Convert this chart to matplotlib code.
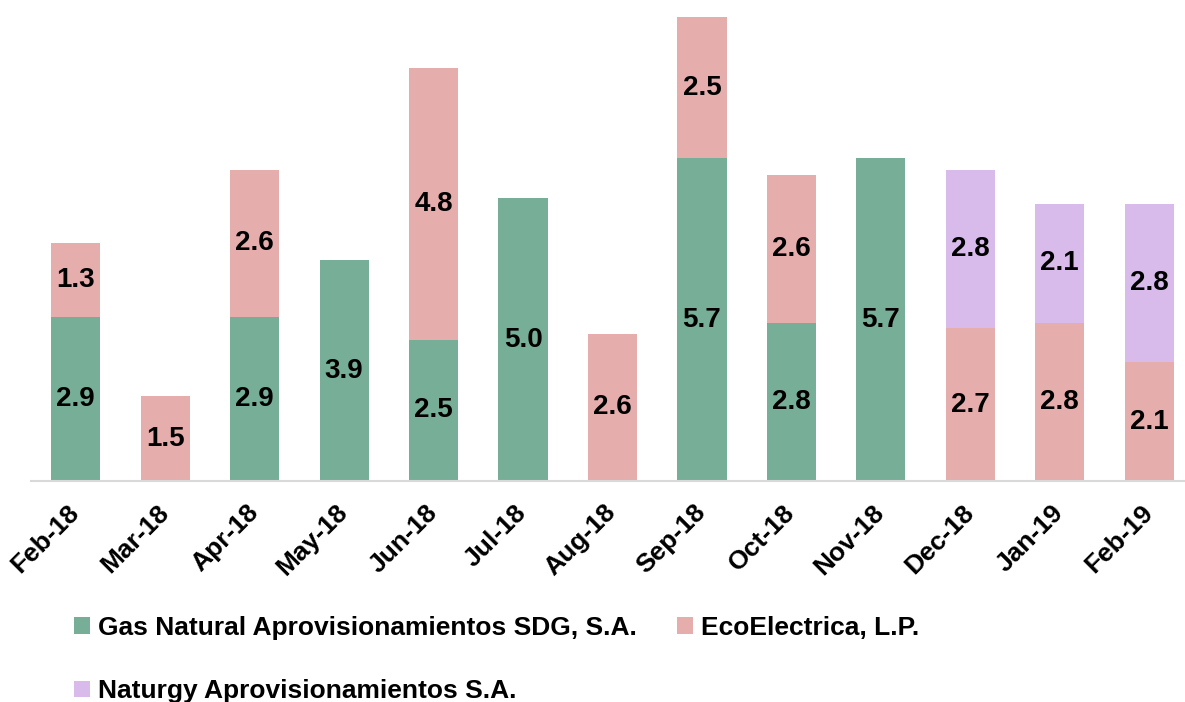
import numpy as np
import matplotlib.pyplot as plt

plt.rcParams['font.family'] = ['Liberation Sans', 'DejaVu Sans']
plt.rcParams['font.weight'] = 'bold'

months = ['Feb-18', 'Mar-18', 'Apr-18', 'May-18', 'Jun-18', 'Jul-18', 'Aug-18',
          'Sep-18', 'Oct-18', 'Nov-18', 'Dec-18', 'Jan-19', 'Feb-19']
gas = [2.9, 0, 2.9, 3.9, 2.5, 5.0, 0, 5.7, 2.8, 5.7, 0, 0, 0]
eco = [1.3, 1.5, 2.6, 0, 4.8, 0, 2.6, 2.5, 2.6, 0, 2.7, 2.8, 2.1]
nat = [0, 0, 0, 0, 0, 0, 0, 0, 0, 0, 2.8, 2.1, 2.8]
names = ['Gas Natural Aprovisionamientos SDG, S.A.', 'EcoElectrica, L.P.',
         'Naturgy Aprovisionamientos S.A.']
colors = ['#76AE98', '#E6ADAD', '#D8BBEA']

fig = plt.figure(figsize=(11.85, 7.02), dpi=100)
ax = fig.add_axes([31 / 1185, 1 - 481 / 702, 1 - 31 / 1185, 481 / 702])

x = np.arange(len(months))
bottom = np.zeros(len(months))
bars = []
for vals, c, n in zip([gas, eco, nat], colors, names):
    vals = np.array(vals, dtype=float)
    b = ax.bar(x, vals, 0.55, bottom=bottom, color=c, label=n)
    bars.append(b)
    for xi, v, bt in zip(x, vals, bottom):
        if v > 0:
            ax.text(xi, bt + v / 2, f'{v:.1f}', ha='center', va='center',
                    fontsize=20, fontweight='bold', color='black')
    bottom += vals

ax.set_xlim(-0.5, 12.4)
ax.set_ylim(0, 8.5)
ax.set_yticks([])
for s in ['top', 'right', 'left']:
    ax.spines[s].set_visible(False)
ax.spines['bottom'].set_color('#D9D9D9')
ax.spines['bottom'].set_linewidth(1.5)
ax.set_xticks(x)
ax.set_xticklabels(months, rotation=45, ha='right', va='center',
                   rotation_mode='anchor', fontsize=19, fontweight='bold')
ax.tick_params(axis='x', length=0, pad=20)

fig.legend([bars[0], bars[2], bars[1]], [names[0], names[2], names[1]],
           ncol=2, loc='upper left', bbox_to_anchor=(50 / 1185, 1 - 592 / 702),
           frameon=False, fontsize=19, handlelength=0.6, handleheight=0.6,
           handletextpad=0.3, columnspacing=1.55, labelspacing=1.5)

fig.savefig('out.png', dpi=100)
